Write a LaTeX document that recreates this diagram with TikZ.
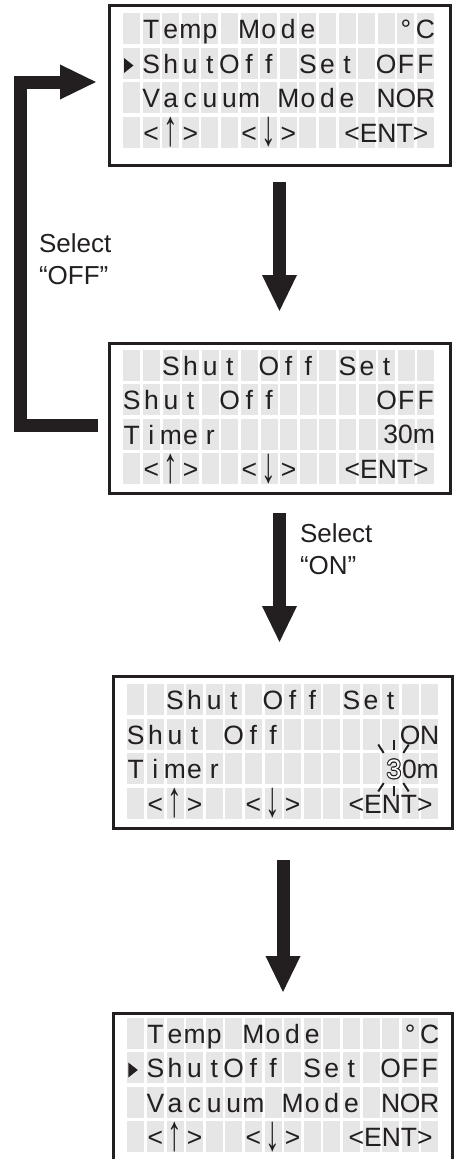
\documentclass[tikz,border=0pt]{standalone}
\usepackage{fontspec}
\setmainfont{Liberation Sans}
\usetikzlibrary{arrows.meta,calc}
\definecolor{ink}{RGB}{35,31,32}
\definecolor{cellgray}{RGB}{230,230,230}
\tikzset{
  lcd/.style={anchor=base, inner sep=0pt, outer sep=0pt, text=ink, font=\fontsize{26.5}{30}\selectfont},
  lcdarrow/.style={anchor=center, inner sep=0pt, outer sep=0pt, text=ink, font=\fontsize{26.5}{30}\selectfont},
  lbl/.style={anchor=base west, inner sep=0pt, outer sep=0pt, text=ink, font=\fontsize{26}{30}\selectfont},
  screenbox/.style={draw=ink, line width=3pt, rectangle, inner sep=0pt, outer sep=0pt},
  bigarrow/.style={draw=ink, line width=13pt, line join=miter, -{Triangle[length=37pt,width=32pt]}},
  spark/.style={draw=ink, line width=2pt},
}
\newcommand\lcdgrid[2]{%
  \foreach \lr in {0,...,3}{\foreach \lcol in {0,...,15}{
    \fill[cellgray] ({#1+\lcol*19.6},{#2+\lr*34.5}) rectangle ++(17,31);}}}
\newcommand\lcdrow[5]{%
  \foreach \lcol/\lchr in {#5}{%
    \node[lcd] (#1r#4c\lcol) at ({#2+\lcol*19.6+8.5},{#3+#4*34.5+25.5}) {\lchr};}}
\newcommand\lcdkeys[3]{%
  \lcdrow{#1}{#2}{#3}{3}{1/<,3/>,6/<,8/>}
  \node[lcdarrow] (#1up) at ({#2+2*19.6+8.5},{#3+3*34.5+16}) {\scalebox{1.1}[1.9]{↑}};
  \node[lcdarrow] (#1dn) at ({#2+7*19.6+8.5},{#3+3*34.5+16}) {\scalebox{1.1}[1.9]{↓}};
  \node[lcd] (#1ent) at ({#2+13*19.6+8.5},{#3+3*34.5+25.5}) {<ENT>};}
\newcommand\olthree{\leavevmode
  \rlap{\kern0.9pt 3}\rlap{\kern-0.9pt 3}%
  \rlap{\raisebox{0.9pt}{3}}\rlap{\raisebox{-0.9pt}{3}}%
  \rlap{\kern0.64pt\raisebox{0.64pt}{3}}\rlap{\kern-0.64pt\raisebox{0.64pt}{3}}%
  \rlap{\kern0.64pt\raisebox{-0.64pt}{3}}\rlap{\kern-0.64pt\raisebox{-0.64pt}{3}}%
  \textcolor{white}{3}}
\begin{document}
\begin{tikzpicture}[x=1pt,y=-1pt]
\useasboundingbox (0,0) rectangle (455,1159);
\clip (0,0) rectangle (455,1159);

% ---------- grids ----------
\lcdgrid{123}{13}
\lcdgrid{123.3}{349.5}
\lcdgrid{127.3}{684}
\lcdgrid{127.3}{1017.5}

% ---------- screen frames ----------
\node[screenbox, minimum width=341pt, minimum height=160pt] (s1) at (279.5,85) {};
\node[screenbox, minimum width=341pt, minimum height=150pt] (s2) at (279.5,418) {};
\node[screenbox, minimum width=339pt, minimum height=152pt] (s3) at (282.8,752) {};
\node[screenbox, minimum width=339pt, minimum height=162pt] (s4) at (282.8,1094) {};

% ---------- screen 1 ----------
\lcdrow{a}{123}{13}{0}{1/T,2/e,3/m,4/p,6/M,7/o,8/d,9/e,14/°,15/C}
\fill[ink] (124,58) -- (124,73) -- (133.5,65.5) -- cycle;
\lcdrow{a}{123}{13}{1}{1/S,2/h,3/u,4/t,5/O,6/f,7/f,9/S,10/e,11/t,13/O,14/F,15/F}
\lcdrow{a}{123}{13}{2}{1/V,2/a,3/c,4/u,5/u,6/m,8/M,9/o,10/d,11/e,13/N,14/O,15/R}
\lcdkeys{a}{123}{13}

% ---------- screen 2 ----------
\lcdrow{b}{123.3}{349.5}{0}{2/S,3/h,4/u,5/t,7/O,8/f,9/f,11/S,12/e,13/t}
\lcdrow{b}{123.3}{349.5}{1}{0/S,1/h,2/u,3/t,5/O,6/f,7/f,13/O,14/F,15/F}
\lcdrow{b}{123.3}{349.5}{2}{0/T,1/i,2/m,3/e,4/r}
\node[lcd, anchor=base east] (b30m) at (435,443.5) {30m};
\lcdkeys{b}{123.3}{349.5}

% ---------- screen 3 ----------
\lcdrow{c}{127.3}{684}{0}{2/S,3/h,4/u,5/t,7/O,8/f,9/f,11/S,12/e,13/t}
\lcdrow{c}{127.3}{684}{1}{0/S,1/h,2/u,3/t,5/O,6/f,7/f,14/O,15/N}
\lcdrow{c}{127.3}{684}{2}{0/T,1/i,2/m,3/e,4/r}
\node[lcd] (c3) at (394,778.5) {\olthree};
\node[lcd, anchor=base west] (c0m) at (402,778.5) {0m};
\coordinate (sp) at (393.5,768);
\foreach \a in {57,90,123,237,270,303}{
  \draw[spark] ($(sp)+(\a:18)$) -- ($(sp)+(\a:28)$);}
\lcdkeys{c}{127.3}{684}

% ---------- screen 4 ----------
\lcdrow{d}{127.3}{1017.5}{0}{1/T,2/e,3/m,4/p,6/M,7/o,8/d,9/e,14/°,15/C}
\fill[ink] (128.3,1062.5) -- (128.3,1077.5) -- (137.8,1070) -- cycle;
\lcdrow{d}{127.3}{1017.5}{1}{1/S,2/h,3/u,4/t,5/O,6/f,7/f,9/S,10/e,11/t,13/O,14/F,15/F}
\lcdrow{d}{127.3}{1017.5}{2}{1/V,2/a,3/c,4/u,5/u,6/m,8/M,9/o,10/d,11/e,13/N,14/O,15/R}
\lcdkeys{d}{127.3}{1017.5}

% ---------- arrows ----------
\coordinate (a1s) at (279.5,182);
\coordinate (a1e) at (279.5,312);
\coordinate (a2s) at (279.5,513);
\coordinate (a2e) at (279.5,643);
\coordinate (a3s) at (283,860);
\coordinate (a3e) at (283,993);
\draw[bigarrow] (a1s) -- (a1e);
\draw[bigarrow] (a2s) -- (a2e);
\draw[bigarrow] (a3s) -- (a3e);
\coordinate (bks) at (98,425.5);
\coordinate (bke) at (97,82);
\draw[bigarrow] (bks) -- (20.5,425.5) -- (20.5,82) -- (bke);

% ---------- labels ----------
\node[lbl] (selA) at (39,252) {Select};
\node[lbl] (selB) at (39,284) {“OFF”};
\node[lbl] (selC) at (300,542) {Select};
\node[lbl] (selD) at (300,574) {“ON”};
\end{tikzpicture}
\end{document}
